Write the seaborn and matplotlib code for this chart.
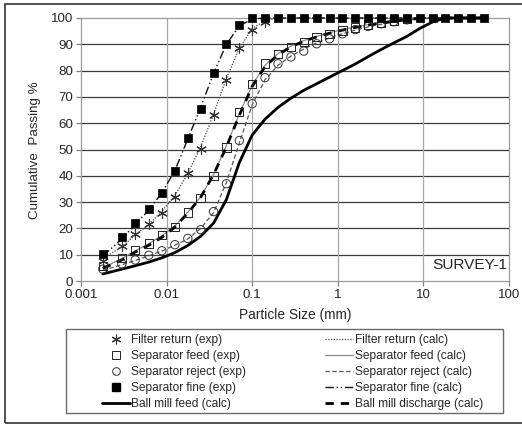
import matplotlib
matplotlib.use("Agg")
import matplotlib.pyplot as plt
from matplotlib.lines import Line2D
from matplotlib.patches import Rectangle
import seaborn as sns

# sieve sizes (mm), shared by all series
sizes_mm = [0.0018, 0.003, 0.0043, 0.0062, 0.0088, 0.0125, 0.0177, 0.025, 0.0354, 0.05,
            0.0707, 0.1, 0.141, 0.2, 0.283, 0.4, 0.566, 0.8, 1.13, 1.6,
            2.26, 3.2, 4.5, 6.4, 9.05, 12.8, 18.1, 25.6, 36.2, 51.2]

# experimental points (cumulative passing %)
filter_exp = [7.7, 13.4, 17.9, 21.8, 25.9, 32.0, 41.2, 50.2, 63.0, 76.4,
              88.7, 95.4, 98.6]
sep_feed_exp = [5.6, 8.7, 11.8, 14.2, 17.4, 20.6, 26.0, 31.6, 40.0, 50.7,
                64.2, 74.8, 82.7, 86.4, 89.1, 91.0, 92.8, 94.0, 95.3, 96.4,
                97.5, 98.2, 99.1, 99.7]
sep_reject_exp = [4.5, 6.5, 8.0, 9.8, 11.5, 13.8, 16.2, 19.5, 26.4, 37.0,
                  53.4, 67.4, 77.3, 82.6, 85.2, 87.4, 90.2, 92.1, 94.0, 95.6,
                  96.8, 97.8, 98.6, 99.3]
sep_fine_exp = [10.2, 16.6, 22.2, 27.4, 33.6, 41.8, 54.3, 65.5, 79.2, 90.1,
                97.3, 100, 100, 100, 100, 100, 100, 100, 100, 100,
                100, 100, 100, 100, 100, 100, 100, 100, 100, 100]

# calculated curves
filter_calc = [8.5, 13.0, 17.5, 21.5, 26.5, 32.5, 41.0, 51.0, 63.5, 77.0,
               88.5, 96.0, 99.0, 100, 100, 100, 100, 100, 100, 100,
               100, 100, 100, 100, 100, 100, 100, 100, 100, 100]
sep_feed_calc = [5.0, 8.5, 11.5, 14.2, 17.2, 21.0, 26.2, 32.0, 40.5, 51.5,
                 63.5, 74.5, 82.0, 86.5, 89.3, 91.4, 93.0, 94.4, 95.6, 96.6,
                 97.5, 98.3, 99.0, 99.5, 99.9, 100, 100, 100, 100, 100]
sep_reject_calc = [4.0, 6.2, 7.8, 9.6, 11.4, 13.6, 16.0, 20.0, 26.0, 37.5,
                   52.5, 67.0, 76.5, 82.0, 85.5, 88.2, 90.5, 92.4, 94.0, 95.4,
                   96.6, 97.6, 98.5, 99.2, 99.7, 100, 100, 100, 100, 100]
sep_fine_calc = [9.5, 16.0, 21.5, 27.0, 33.5, 42.0, 54.0, 66.0, 79.0, 90.0,
                 97.0, 99.6, 100, 100, 100, 100, 100, 100, 100, 100,
                 100, 100, 100, 100, 100, 100, 100, 100, 100, 100]
ball_feed_calc = [2.7, 4.5, 5.8, 7.2, 8.8, 10.8, 13.5, 17.0, 22.0, 31.0,
                  45.0, 55.5, 61.5, 66.0, 69.5, 72.5, 75.0, 77.5, 80.0, 82.5,
                  85.3, 88.0, 90.5, 93.0, 96.0, 98.5, 100, 100, 100, 100]
ball_disch_calc = [4.8, 8.0, 11.0, 13.6, 16.6, 20.5, 25.8, 31.8, 40.5, 51.0,
                   63.0, 74.0, 81.5, 86.0, 89.0, 91.2, 92.8, 94.2, 95.4, 96.4,
                   97.3, 98.1, 98.8, 99.4, 99.8, 100, 100, 100, 100, 100]

sns.set_style("white")
plt.rcParams["font.family"] = ["Liberation Sans", "DejaVu Sans"]

W, H = 522, 425
fig = plt.figure(figsize=(W / 100, H / 100), dpi=100)
ax = fig.add_axes([81 / W, 1 - 281 / H, (509 - 81) / W, (281 - 18) / H])

asterisk = (6, 2, 0)

lines = [
    (filter_calc, dict(color="#444444", lw=0.9, ls=(0, (1, 1.2)))),
    (sep_feed_calc, dict(color="#8a8a8a", lw=0.9, ls="-")),
    (sep_reject_calc, dict(color="#555555", lw=0.9, ls=(0, (3.5, 2)))),
    (sep_fine_calc, dict(color="#111111", lw=1.0, ls=(0, (6, 2, 1, 2, 1, 2)))),
    (ball_feed_calc, dict(color="black", lw=2.0, ls="-")),
    (ball_disch_calc, dict(color="black", lw=2.0, ls=(0, (3, 2.5)))),
]
for vals, st in lines:
    sns.lineplot(x=sizes_mm[:len(vals)], y=vals, ax=ax, estimator=None, sort=False,
                 zorder=3, clip_on=False, **st)

sns.scatterplot(x=sizes_mm[:len(sep_reject_exp)], y=sep_reject_exp, ax=ax, marker="o",
                s=36, facecolor="none", edgecolor="#333333", linewidth=0.7, zorder=4,
                clip_on=False)
sns.scatterplot(x=sizes_mm[:len(sep_feed_exp)], y=sep_feed_exp, ax=ax, marker="s",
                s=36, facecolor="none", edgecolor="#222222", linewidth=0.7, zorder=4,
                clip_on=False)
sns.scatterplot(x=sizes_mm[:len(filter_exp)], y=filter_exp, ax=ax, marker=asterisk,
                s=50, color="#333333", linewidth=0.8, zorder=5, clip_on=False)
sns.scatterplot(x=sizes_mm, y=sep_fine_exp, ax=ax, marker="s",
                s=38, color="black", edgecolor="black", linewidth=0.5, zorder=6,
                clip_on=False)

ax.set_xscale("log")
ax.set_xlim(0.001, 100)
ax.set_ylim(0, 100)
ax.set_yticks(range(0, 101, 10))
ax.set_xticks([0.001, 0.01, 0.1, 1, 10, 100])
ax.set_xticklabels(["0.001", "0.01", "0.1", "1", "10", "100"])
ax.xaxis.set_minor_locator(matplotlib.ticker.NullLocator())

for y in range(10, 100, 10):
    ax.axhline(y, color="#3a3a3a", lw=0.9, zorder=1)
for x in [0.01, 0.1, 1, 10]:
    ax.axvline(x, color="#a8a8a8", lw=0.9, zorder=1)
for sp in ax.spines.values():
    sp.set_color("#9a9a9a")
    sp.set_linewidth(0.9)

ax.tick_params(axis="both", which="major", direction="out", length=3.5, width=0.9,
               color="#808080", labelsize=9.6, pad=2, left=True, bottom=True)

ax.set_xlabel("Particle Size (mm)", fontsize=9.9)
ax.set_ylabel("Cumulative  Passing %", fontsize=9.6)
ax.xaxis.set_label_coords(0.5, -0.129)
ax.xaxis.label.set_va("center")
ax.yaxis.set_label_coords(-0.1075, 0.498)
ax.yaxis.label.set_va("center")

ax.text(0.996, 0.059, "SURVEY-1", transform=ax.transAxes, ha="right", va="center",
        fontsize=11.1)

# legend
h = [
    Line2D([], [], ls="none", marker=asterisk, ms=7, color="#333333", mew=0.8),
    Line2D([], [], ls="none", marker="s", ms=5.5, mfc="none", mec="#222222", mew=0.7),
    Line2D([], [], ls="none", marker="o", ms=5.5, mfc="none", mec="#333333", mew=0.7),
    Line2D([], [], ls="none", marker="s", ms=5.5, color="black"),
    Line2D([], [], **lines[4][1]),
    Line2D([], [], **lines[0][1]),
    Line2D([], [], **lines[1][1]),
    Line2D([], [], **lines[2][1]),
    Line2D([], [], **lines[3][1]),
    Line2D([], [], **lines[5][1]),
]
labels = ["Filter return (exp)", "Separator feed (exp)", "Separator reject (exp)",
          "Separator fine (exp)", "Ball mill feed (calc)",
          "Filter return (calc)", "Separator feed (calc)", "Separator reject (calc)",
          "Separator fine (calc)", "Ball mill discharge (calc)"]
fig.legend(h, labels, ncol=2, loc="upper left", bbox_to_anchor=(101.7 / W, 1 - 334 / H),
           frameon=False, fontsize=8.6, handlelength=2.35, handletextpad=0.12,
           columnspacing=6.6, labelspacing=0.33, borderpad=0, borderaxespad=0)

fig.patches.append(Rectangle((66 / W, 1 - 413.3 / H), (503 - 66) / W, (413.3 - 329) / H,
                             transform=fig.transFigure, fill=False, ec="#6a6a6a", lw=1))
fig.patches.append(Rectangle((5 / W, 1 - 422.5 / H), 1.2, (422.5 - 4) / H,
                             transform=fig.transFigure, fill=False, ec="#333333", lw=1.2))

fig.savefig("out.png", dpi=100)
